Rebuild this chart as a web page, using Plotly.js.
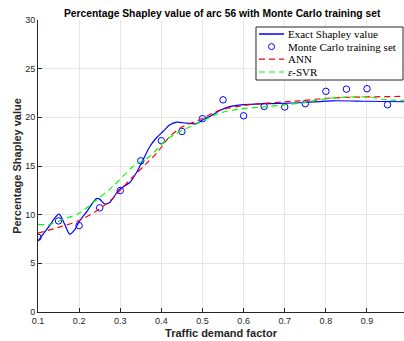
<!DOCTYPE html>
<html>
<head>
<meta charset="utf-8">
<script src="https://cdn.plot.ly/plotly-3.0.1.min.js"></script>
<style>html,body{margin:0;padding:0;background:#fff;}#chart{width:404px;height:341px;}</style>
</head>
<body>
<div id="chart"></div>
<script>
// Exact Shapley value curve
const exactX = [0.10,0.125,0.151,0.165,0.177,0.19,0.201,0.22,0.242,0.25,0.262,0.274,0.298,0.323,0.339,0.355,0.372,0.388,0.404,0.42,0.437,0.461,0.485,0.501,0.518,0.542,0.566,0.60,0.656,0.737,0.817,0.90,0.99];
const exactY = [7.3,8.7,10.05,9.0,8.0,8.5,9.35,10.4,11.65,11.6,11.1,11.25,12.6,13.3,14.3,15.6,17.0,17.9,18.55,19.2,19.5,19.4,19.35,19.75,20.1,20.7,21.1,21.3,21.4,21.5,21.7,21.65,21.6];
// Monte Carlo training set
const mcX = [0.10,0.15,0.20,0.25,0.30,0.35,0.40,0.45,0.50,0.55,0.60,0.65,0.70,0.75,0.80,0.85,0.90,0.95];
const mcY = [7.68,9.36,8.88,10.7,12.48,15.53,17.6,18.55,19.86,21.8,20.16,21.12,21.06,21.4,22.67,22.9,22.94,21.3];
// ANN
const annX = [0.10,0.15,0.20,0.25,0.282,0.306,0.331,0.36,0.388,0.42,0.45,0.49,0.54,0.615,0.737,0.817,0.99];
const annY = [8.1,8.7,9.4,10.6,11.7,12.8,13.9,15.1,16.3,18.0,19.0,19.7,20.7,21.3,21.7,22.0,22.15];
// epsilon-SVR
const svrX = [0.10,0.128,0.16,0.20,0.242,0.282,0.331,0.372,0.412,0.453,0.494,0.542,0.59,0.656,0.737,0.817,0.90,0.948,0.99];
const svrY = [9.0,9.0,9.5,10.15,11.5,12.9,14.95,16.0,17.7,18.7,19.5,20.45,20.85,21.1,21.47,22.0,22.1,21.8,21.75];

const xTicks = [0.1,0.2,0.3,0.4,0.5,0.6,0.7,0.8,0.9];
const yTicks = [0,5,10,15,20,25,30];
const legendLabels = ['Exact Shapley value', 'Monte Carlo training set', 'ANN', '<i>ε</i>-SVR'];

const BLUE = '#0000ff', RED = '#ff0000', GREEN = '#00ff00';
const DASH = '6px,4px';

const traces = [
  {x: exactX, y: exactY, mode: 'lines', name: legendLabels[0],
   line: {color: BLUE, width: 1.2, shape: 'spline', smoothing: 0.8}},
  {x: mcX, y: mcY, mode: 'markers', name: legendLabels[1],
   marker: {symbol: 'circle-open', size: 6.5, color: BLUE, line: {width: 1, color: BLUE}}},
  {x: annX, y: annY, mode: 'lines', name: legendLabels[2],
   line: {color: RED, width: 1.2, dash: DASH, shape: 'spline', smoothing: 0.8}},
  {x: svrX, y: svrY, mode: 'lines', name: legendLabels[3],
   line: {color: GREEN, width: 1.2, dash: DASH, shape: 'spline', smoothing: 0.8}}
];

const axisCommon = {
  showline: true, linecolor: '#262626', linewidth: 1,
  ticks: 'inside', ticklen: 4, tickcolor: '#262626',
  showgrid: true, gridcolor: '#e6e6e6', gridwidth: 1,
  zeroline: false,
  tickfont: {family: 'Liberation Sans, Arial, sans-serif', size: 9, color: '#262626'}
};

// custom legend box (MATLAB-style compact legend)
const lgX0 = 0.5956, lgX1 = 0.9973, lgYTop = 0.976, lgYBot = 0.7945;
const rowY = [0.952, 0.909, 0.866, 0.822];
const sampleX0 = 0.6038, sampleX1 = 0.6721, sampleXC = 0.638, textX = 0.680;
const shapes = [
  {type: 'rect', xref: 'paper', yref: 'paper', x0: lgX0, x1: lgX1, y0: lgYBot, y1: lgYTop,
   fillcolor: '#ffffff', line: {color: '#262626', width: 1}, layer: 'above'},
  {type: 'line', xref: 'paper', yref: 'paper', x0: sampleX0, x1: sampleX1, y0: rowY[0], y1: rowY[0],
   line: {color: BLUE, width: 1.5}, layer: 'above'},
  {type: 'circle', xref: 'paper', yref: 'paper', xsizemode: 'pixel', ysizemode: 'pixel',
   xanchor: sampleXC, yanchor: rowY[1], x0: -3, x1: 3, y0: -3, y1: 3,
   line: {color: BLUE, width: 1}, fillcolor: 'rgba(0,0,0,0)', layer: 'above'},
  {type: 'line', xref: 'paper', yref: 'paper', x0: sampleX0, x1: sampleX1, y0: rowY[2], y1: rowY[2],
   line: {color: RED, width: 1.2, dash: DASH}, layer: 'above'},
  {type: 'line', xref: 'paper', yref: 'paper', x0: sampleX0, x1: sampleX1, y0: rowY[3], y1: rowY[3],
   line: {color: GREEN, width: 1.2, dash: DASH}, layer: 'above'}
];
const annotations = legendLabels.map((t, i) => ({
  text: t, xref: 'paper', yref: 'paper', x: textX, y: rowY[i],
  xanchor: 'left', yanchor: 'middle', showarrow: false, borderpad: 0,
  font: {family: 'Liberation Serif, Times New Roman, serif', size: 11, color: '#000'}
}));

const layout = {
  width: 404, height: 341,
  margin: {l: 38, r: 0, t: 20, b: 29},
  paper_bgcolor: '#ffffff', plot_bgcolor: '#ffffff',
  title: {text: '<b>Percentage Shapley value of arc 56 with Monte Carlo training set</b>',
          font: {family: 'Liberation Sans, Arial, sans-serif', size: 10.3, color: '#000'},
          xref: 'paper', x: 0.503, xanchor: 'center', yref: 'container', y: 0.962, yanchor: 'middle'},
  xaxis: Object.assign({}, axisCommon, {
    range: [0.1, 0.99], tickvals: xTicks, ticktext: xTicks.map(v => v.toFixed(1)),
    title: {text: '<b>Traffic demand factor</b>', standoff: 4,
            font: {family: 'Liberation Sans, Arial, sans-serif', size: 11, color: '#262626'}}
  }),
  yaxis: Object.assign({}, axisCommon, {
    range: [0, 30], tickvals: yTicks, ticktext: yTicks.map(String),
    title: {text: '<b>Percentage Shapley value</b>', standoff: 1,
            font: {family: 'Liberation Sans, Arial, sans-serif', size: 11, color: '#262626'}}
  }),
  showlegend: false,
  shapes: shapes,
  annotations: annotations
};

Plotly.newPlot('chart', traces, layout, {displayModeBar: false, staticPlot: true});
</script>
</body>
</html>
